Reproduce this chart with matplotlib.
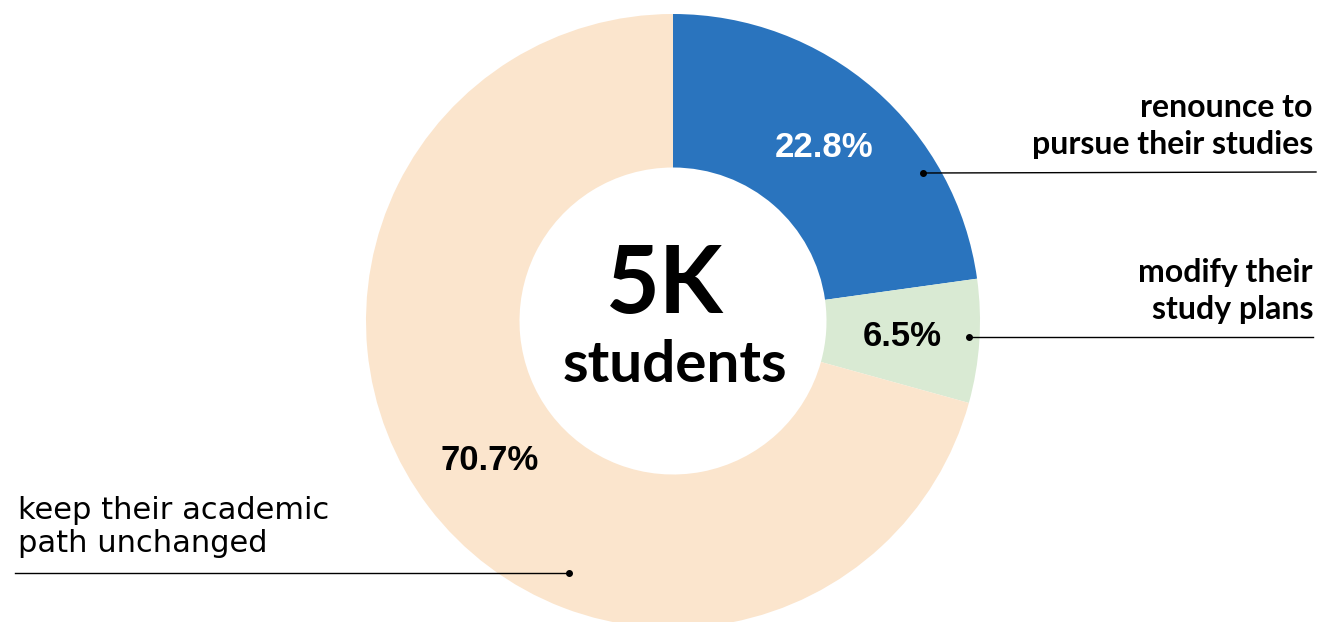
import matplotlib.pyplot as plt

# slices, clockwise from 12 o'clock
shares = [22.8, 6.5, 70.7]
colors = ['#2a74be', '#d9ead3', '#fbe5cd']
pct_colors = ['white', 'black', 'black']
center_big = '5K'
center_small = 'students'
label_renounce = 'renounce to\npursue their studies'
label_modify = 'modify their\nstudy plans'
label_keep = 'keep their academic\npath unchanged'

W, H = 1322, 622
fig = plt.figure(figsize=(W / 100, H / 100), dpi=100)
ax = fig.add_axes([0, 0, 1, 1])


def py(y):
    # pixel row (from top) -> data y (from bottom)
    return H - y


cx, cy, R = 673, py(321), 307
wedges, texts, autotexts = ax.pie(
    shares, colors=colors, startangle=90, counterclock=False,
    radius=R, center=(cx, cy), autopct='%1.1f%%', pctdistance=0.75,
    wedgeprops=dict(width=R * 0.5, linewidth=0),
    textprops=dict(fontsize=25, fontweight='bold', family='Liberation Sans'))
for t, c in zip(autotexts, pct_colors):
    t.set_color(c)

ax.set_xlim(0, W)
ax.set_ylim(0, H)
ax.set_aspect('equal')
ax.axis('off')

ax.text(665, py(286), center_big, ha='center', va='center', fontsize=67,
        fontweight='bold', family='Lato')
ax.text(675, py(366), center_small, ha='center', va='center', fontsize=42,
        fontweight='bold', family='Lato')

# callouts
ax.text(1313, py(126), label_renounce, ha='right', va='center', fontsize=23,
        fontweight='bold', family='Lato', linespacing=1.3)
ax.plot([923, 1316], [py(173), py(172)], color='black', lw=1)
ax.plot(923, py(173), 'o', color='black', ms=4)

ax.text(1313, py(291), label_modify, ha='right', va='center', fontsize=23,
        fontweight='bold', family='Lato', linespacing=1.3)
ax.plot([969, 1313], [py(337), py(337)], color='black', lw=1)
ax.plot(969, py(337), 'o', color='black', ms=4)

ax.text(18, py(527), label_keep, ha='left', va='center', fontsize=22,
        family='DejaVu Sans', linespacing=1.15)
ax.plot([15, 569], [py(573), py(573)], color='black', lw=1)
ax.plot(569, py(573), 'o', color='black', ms=4)

fig.savefig('out.png', dpi=100, facecolor='white')
